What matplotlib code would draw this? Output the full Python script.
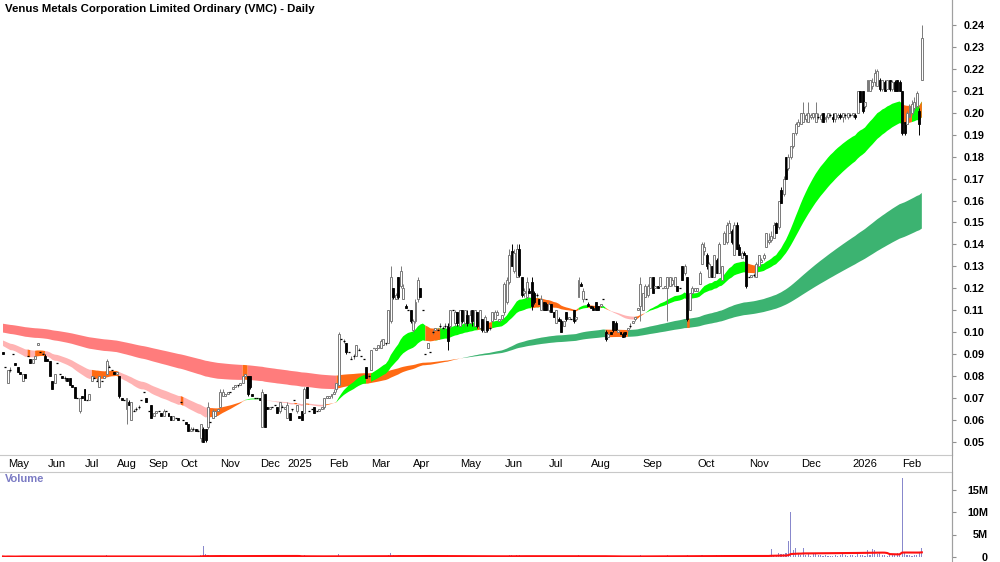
import numpy as np
import pandas as pd
import matplotlib
matplotlib.use("Agg")
import matplotlib.pyplot as plt
from matplotlib.lines import Line2D

plt.rcParams['font.family'] = ['Liberation Sans', 'DejaVu Sans']

# bars per month (only days with trades are shown)
month_labels = ['Apr', 'May', 'Jun', 'Jul', 'Aug', 'Sep', 'Oct', 'Nov', 'Dec',
                '2025', 'Feb', 'Mar', 'Apr', 'May', 'Jun', 'Jul', 'Aug', 'Sep', 'Oct', 'Nov', 'Dec',
                '2026', 'Feb']
month_bars = [2, 16, 15, 13, 13, 13, 16, 16, 11,
              17, 17, 17, 19, 18, 18, 17, 21, 22, 21, 21, 21,
              20, 9]

# prices in tenths of a cent
opens = [
    91, 84,
    77, 83, 90, 86, 84, 82, 78, 81, 89, 88, 86, 88, 94, 91, 90, 89,
    88, 87, 78, 77, 86, 81, 80, 79, 79, 79, 76, 75, 70, 64, 71,
    74, 69, 69, 78, 79, 78, 75, 78, 79, 81, 84, 83, 82,
    81, 80, 70, 69, 65, 68, 60, 64, 65, 66, 69, 73, 70,
    64, 67, 62, 63, 64, 63, 62, 64, 63, 62, 60, 61, 61,
    68, 60, 59, 58, 55, 56, 56, 55, 52, 56, 56, 57, 59, 61, 62, 64,
    66, 71, 71, 72, 73, 74, 75, 76, 76, 77, 80, 80, 80, 72, 70, 70,
    70, 57, 72, 66, 65, 66, 67, 66, 64, 66, 65,
    61, 63, 65, 69, 64, 62, 64, 63, 75, 64, 65, 66, 64, 64, 65, 66, 70,
    70, 71, 72, 74, 76, 97, 96, 95, 91, 88, 89, 89, 92, 89, 88, 84, 80,
    83, 93, 92, 93, 93, 94, 95, 95, 105, 120, 115, 125, 121, 115, 112, 110, 110,
    101, 105, 115, 120, 110, 90, 93, 91, 100, 101, 101, 103, 102, 103, 103, 103, 110, 104, 109,
    103, 110, 104, 108, 104, 110, 103, 109, 102, 106, 100, 105, 102, 105, 106, 108, 105, 106,
    109, 114, 123, 137, 128, 125, 138, 125, 118, 116, 119, 123, 118, 117, 115, 110, 114, 113,
    110, 113, 109, 104, 106, 105, 103, 109, 106, 106, 110, 106, 116, 122, 115, 115, 113,
    112, 111, 114, 112, 112, 115, 100, 98, 100, 105, 104, 100, 100, 99, 100, 101, 103, 104, 106, 110, 112,
    110, 116, 117, 120, 125, 120, 121, 121, 120, 120, 120, 121, 122, 121, 121, 120, 130, 127, 125, 110, 118, 119,
    119, 122, 131, 137, 135, 125, 130, 125, 133, 127, 124, 140, 141, 145, 146, 135, 149, 139, 134, 136, 135,
    125, 125, 126, 125, 130, 132, 134, 139, 141, 142, 143, 150, 148, 165, 163, 180, 175, 180, 185, 191, 194,
    195, 196, 197, 196, 198, 198, 196, 198, 197, 200, 197, 198, 199, 198, 197, 198, 199, 198, 199, 198, 199,
    199, 199, 200, 210, 210, 203, 210, 210, 212, 214, 212, 215, 211, 214, 211, 215, 211, 214, 215, 214,
    210, 196, 195, 198, 200, 202, 203, 201, 215,
]
highs = [
    91, 84,
    83, 84, 90, 86, 84, 82, 81, 81, 89, 88, 88, 89, 95, 91, 91, 90,
    88, 87, 78, 81, 86, 81, 80, 80, 79, 79, 76, 75, 70, 70, 71,
    74, 69, 72, 80, 80, 79, 80, 78, 80, 88, 85, 83, 82,
    82, 80, 70, 69, 70, 69, 68, 65, 66, 67, 69, 73, 70,
    64, 67, 63, 64, 64, 63, 65, 64, 63, 62, 62, 61, 61,
    68, 60, 59, 58, 57, 57, 56, 56, 58, 57, 56, 68, 59, 65, 64, 65,
    74, 74, 72, 73, 73, 75, 76, 76, 77, 80, 81, 80, 80, 72, 70, 70,
    70, 74, 72, 66, 66, 66, 67, 66, 68, 67, 66,
    68, 63, 65, 69, 67, 62, 64, 75, 75, 64, 65, 66, 64, 65, 66, 70, 71,
    71, 72, 74, 77, 100, 97, 97, 95, 91, 89, 90, 94, 93, 89, 88, 84, 81,
    92, 93, 93, 94, 97, 97, 95, 110, 130, 120, 118, 125, 130, 122, 113, 110, 110,
    106, 115, 125, 120, 110, 90, 95, 91, 101, 102, 102, 104, 103, 104, 104, 110, 110, 110, 109,
    110, 110, 110, 110, 110, 110, 110, 109, 110, 106, 108, 105, 103, 109, 110, 110, 106, 108,
    123, 125, 138, 140, 138, 140, 140, 125, 120, 125, 120, 125, 119, 118, 115, 117, 114, 114,
    114, 113, 109, 110, 107, 106, 105, 109, 107, 106, 110, 107, 125, 123, 120, 115, 114,
    112, 112, 114, 112, 113, 115, 101, 99, 100, 105, 105, 101, 100, 100, 100, 102, 104, 105, 107, 111, 125,
    118, 122, 122, 125, 125, 121, 121, 125, 120, 121, 125, 125, 125, 125, 121, 120, 130, 131, 125, 118, 121, 120,
    120, 128, 141, 141, 136, 132, 130, 135, 134, 141, 130, 146, 150, 151, 147, 150, 150, 140, 137, 137, 135,
    125, 126, 127, 132, 135, 134, 136, 145, 145, 146, 150, 150, 160, 166, 171, 180, 181, 185, 191, 196, 197,
    200, 205, 200, 205, 200, 200, 205, 200, 200, 200, 199, 200, 200, 200, 200, 200, 200, 200, 200, 200, 200,
    200, 200, 210, 210, 210, 205, 215, 215, 216, 220, 220, 216, 215, 215, 215, 215, 215, 215, 215, 215,
    210, 196, 201, 204, 206, 207, 210, 202, 240,
]
lows = [
    90, 84,
    77, 82, 90, 85, 82, 81, 78, 79, 89, 86, 86, 88, 94, 91, 90, 87,
    87, 80, 74, 77, 86, 81, 79, 78, 78, 76, 75, 70, 70, 63, 70,
    69, 69, 69, 78, 79, 78, 75, 78, 79, 81, 84, 83, 81,
    81, 70, 69, 69, 58, 67, 60, 64, 64, 65, 69, 73, 68,
    64, 61, 62, 63, 64, 62, 62, 64, 62, 60, 60, 61, 60,
    68, 60, 58, 55, 55, 55, 55, 55, 50, 50, 50, 56, 59, 61, 62, 64,
    66, 71, 71, 72, 73, 74, 75, 75, 76, 77, 80, 71, 74, 71, 70, 70,
    69, 57, 57, 65, 65, 66, 67, 63, 63, 66, 65,
    61, 60, 64, 69, 63, 61, 60, 63, 70, 64, 65, 63, 64, 64, 65, 65, 70,
    70, 70, 72, 73, 76, 97, 95, 90, 91, 88, 88, 89, 92, 89, 88, 79, 79,
    83, 93, 92, 93, 93, 94, 94, 95, 104, 115, 115, 115, 120, 115, 111, 110, 104,
    100, 104, 114, 116, 110, 90, 93, 91, 99, 101, 101, 102, 101, 102, 92, 102, 110, 103, 103,
    103, 104, 103, 103, 104, 103, 103, 102, 102, 100, 100, 100, 101, 105, 106, 108, 105, 106,
    108, 113, 122, 130, 127, 125, 125, 116, 116, 115, 118, 110, 113, 116, 113, 110, 110, 110,
    109, 109, 107, 104, 105, 100, 103, 105, 106, 106, 104, 105, 116, 121, 114, 115, 112,
    111, 110, 110, 110, 112, 115, 96, 98, 99, 100, 101, 100, 99, 98, 98, 100, 102, 104, 105, 110, 105,
    110, 116, 116, 120, 118, 120, 120, 121, 120, 120, 105, 121, 121, 121, 119, 120, 124, 126, 105, 110, 118, 119,
    119, 122, 131, 135, 129, 125, 125, 125, 127, 127, 124, 140, 140, 145, 140, 135, 138, 135, 134, 135, 120,
    125, 125, 125, 125, 130, 132, 133, 139, 140, 141, 143, 145, 147, 159, 162, 170, 174, 179, 184, 190, 194,
    195, 196, 196, 196, 197, 197, 196, 197, 196, 196, 196, 197, 198, 196, 196, 197, 197, 196, 197, 197, 198,
    198, 197, 200, 205, 200, 202, 210, 210, 211, 212, 212, 210, 210, 210, 211, 210, 210, 210, 210, 210,
    190, 190, 195, 198, 199, 201, 202, 190, 215,
]
closes = [
    90, 84,
    83, 83, 90, 85, 82, 81, 81, 79, 89, 86, 88, 89, 95, 91, 90, 87,
    87, 80, 74, 81, 86, 81, 79, 79, 78, 76, 75, 70, 70, 70, 70,
    69, 69, 72, 80, 79, 78, 80, 78, 80, 87, 84, 83, 81,
    82, 71, 69, 69, 70, 67, 68, 64, 65, 66, 69, 73, 68,
    64, 61, 63, 64, 64, 62, 64, 64, 62, 60, 62, 61, 60,
    68, 60, 58, 55, 56, 56, 55, 55, 58, 50, 51, 66, 59, 64, 64, 65,
    73, 73, 72, 73, 73, 75, 76, 76, 77, 80, 81, 72, 75, 71, 70, 70,
    69, 73, 57, 65, 66, 66, 67, 63, 68, 66, 66,
    67, 60, 65, 69, 67, 61, 60, 74, 70, 64, 65, 63, 64, 65, 66, 70, 71,
    71, 72, 73, 77, 99, 97, 96, 91, 91, 88, 89, 94, 92, 89, 88, 79, 80,
    92, 93, 93, 94, 96, 97, 95, 110, 125, 116, 117, 116, 128, 120, 111, 110, 105,
    105, 114, 124, 116, 110, 90, 95, 91, 100, 102, 101, 103, 102, 103, 96, 110, 110, 109, 104,
    110, 105, 110, 104, 108, 105, 110, 103, 110, 101, 107, 101, 102, 109, 109, 109, 106, 108,
    122, 124, 135, 130, 136, 138, 126, 117, 119, 123, 118, 112, 114, 117, 113, 115, 110, 110,
    113, 109, 107, 110, 105, 100, 105, 106, 107, 106, 105, 107, 124, 121, 119, 115, 112,
    111, 110, 110, 110, 113, 115, 97, 99, 99, 101, 101, 101, 99, 98, 99, 102, 103, 105, 107, 111, 122,
    118, 121, 121, 125, 118, 121, 120, 125, 120, 121, 125, 125, 124, 125, 119, 120, 124, 130, 106, 118, 120, 120,
    120, 127, 140, 139, 130, 131, 125, 135, 127, 140, 130, 145, 149, 150, 141, 149, 138, 135, 136, 135, 121,
    125, 126, 126, 131, 135, 133, 135, 145, 142, 144, 149, 145, 160, 159, 170, 170, 180, 185, 191, 195, 196,
    200, 200, 199, 200, 199, 200, 200, 198, 199, 196, 198, 200, 199, 197, 200, 199, 198, 200, 199, 200, 199,
    200, 198, 210, 205, 201, 205, 215, 215, 214, 218, 219, 211, 215, 210, 215, 211, 214, 210, 210, 210,
    191, 191, 200, 203, 204, 205, 209, 195, 234,
]
# volume in thousands of shares
volumes = [
    120, 60,
    150, 80, 60, 90, 210, 180, 120, 90, 60, 140, 110, 180, 250, 70, 90, 160,
    100, 230, 190, 140, 60, 80, 120, 90, 60, 160, 110, 260, 50, 300, 90,
    180, 60, 140, 120, 80, 60, 150, 40, 90, 380, 70, 60, 110,
    90, 260, 70, 60, 320, 90, 240, 90, 80, 70, 40, 60, 120,
    50, 280, 100, 130, 40, 60, 180, 40, 60, 110, 90, 50, 60,
    40, 70, 90, 180, 90, 100, 130, 120, 420, 2500, 600, 520, 90, 150, 130, 110,
    380, 160, 80, 120, 60, 110, 90, 80, 140, 150, 280, 180, 220, 150, 60, 90,
    50, 450, 380, 80, 60, 50, 40, 150, 180, 60, 140,
    210, 160, 90, 40, 110, 70, 190, 420, 300, 60, 80, 170, 50, 90, 120, 260, 140,
    90, 130, 100, 220, 750, 180, 120, 290, 90, 140, 110, 210, 120, 80, 60, 260, 140,
    210, 60, 90, 70, 180, 140, 90, 380, 900, 420, 260, 380, 350, 220, 150, 90, 240,
    150, 260, 330, 280, 120, 250, 60, 130, 50, 180, 90, 140, 100, 120, 350, 240, 60, 200, 180,
    170, 120, 160, 140, 110, 150, 170, 140, 180, 160, 150, 130, 70, 140, 100, 90, 60, 120,
    230, 200, 450, 380, 260, 350, 420, 300, 180, 220, 140, 290, 160, 90, 140, 170, 130, 110,
    160, 200, 90, 120, 60, 140, 90, 150, 80, 40, 130, 70, 380, 180, 150, 60, 120,
    90, 160, 60, 50, 90, 40, 280, 90, 60, 230, 150, 80, 50, 60, 120, 70, 90, 110, 90, 180, 500,
    220, 180, 240, 90, 110, 160, 50, 200, 60, 150, 380, 200, 150, 90, 40, 60, 270, 130, 520, 240, 90, 110,
    180, 250, 480, 300, 250, 190, 240, 200, 380, 120, 430, 350, 260, 280, 300, 260, 220, 180, 300, 80, 400,
    100, 120, 140, 220, 260, 180, 140, 300, 240, 1700, 380, 500, 800, 600, 700, 900, 3500, 10000, 1500, 2000, 600,
    500, 2000, 400, 700, 300, 700, 600, 400, 500, 300, 400, 300, 250, 300, 400, 300, 350, 800, 400, 300, 450,
    400, 300, 600, 500, 400, 300, 1500, 500, 1800, 1500, 600, 900, 500, 400, 300, 500, 600, 400, 900, 500,
    17500, 1200, 500, 400, 300, 400, 500, 900, 2000,
]

o = np.array(opens) / 1000.0
h = np.array(highs) / 1000.0
l = np.array(lows) / 1000.0
c = np.array(closes) / 1000.0
v = np.array(volumes) * 1000.0
n = len(c)
assert len(o) == len(h) == len(l) == n == len(v) == sum(month_bars)
x = np.arange(n)


def ema(values, period, seed):
    out = np.empty(len(values))
    k = 2.0 / (period + 1)
    prev = seed
    for i, val in enumerate(values):
        prev = prev + k * (val - prev)
        out[i] = prev
    return out


# ribbons: short-term pair and long-term pair (seeded from the first visible level)
s_fast = ema(c, 30, 0.094)
s_slow = ema(c, 50, 0.0965)
l_fast = ema(c, 150, 0.100)
l_slow = ema(c, 230, 0.104)


def ribbon(ax, fast, slow, up_col, mix_col, down_col, z):
    # green: fast above slow and rising, red: fast below slow and falling, else orange
    rising = np.diff(fast, prepend=fast[0]) > 0
    above = fast > slow
    up = above & rising
    down = ~above & ~rising
    mix = ~(up | down)
    lo = np.minimum(fast, slow)
    hi = np.maximum(fast, slow)
    for mask, col in ((up, up_col), (down, down_col), (mix, mix_col)):
        m = mask.copy()
        m[1:] = m[1:] | mask[:-1]
        ax.fill_between(x, lo, hi, where=m, color=col, lw=0, zorder=z)


fig = plt.figure(figsize=(10, 5.62), dpi=100)
H = 562.0
ax = fig.add_axes([0, (H - 455) / H, 0.952, 455 / H])
axv = fig.add_axes([0, 5 / H, 0.952, 85 / H])

ribbon(ax, l_fast, l_slow, '#3cb371', '#ff6a13', '#ff7c7c', 1)
ribbon(ax, s_fast, s_slow, '#00ff00', '#ff6a13', '#ffb3b3', 2)

# candles
up = c > o
flat = c == o
body_w = 0.8
for i in range(n):
    if flat[i]:
        if h[i] > l[i]:
            ax.vlines(x[i], l[i], h[i], color='#707070', lw=0.7, zorder=3)
        ax.hlines(c[i], x[i] - body_w / 2, x[i] + body_w / 2, color='black', lw=0.9, zorder=4)
        continue
    if up[i]:
        ax.vlines(x[i], l[i], h[i], color='#7a7a7a', lw=0.7, zorder=3)
        ax.bar(x[i], c[i] - o[i], bottom=o[i], width=body_w, facecolor='white',
               edgecolor='#7a7a7a', lw=0.7, zorder=4)
    else:
        ax.vlines(x[i], l[i], h[i], color='black', lw=0.7, zorder=3)
        ax.bar(x[i], o[i] - c[i], bottom=c[i], width=body_w, facecolor='black',
               edgecolor='black', lw=0.6, zorder=4)

xlim = (-3 / 2.47, (952 - 3) / 2.47)
ax.set_xlim(*xlim)
ax.set_ylim(0.05 - 13 / 2195, 0.05 + 442 / 2195)
ax.yaxis.tick_right()
yt = np.round(np.arange(0.05, 0.2401, 0.01), 2)
ax.set_yticks(yt)
ax.set_yticklabels([f'{t:.2f}' for t in yt], fontsize=7.8, fontweight='bold')
ax.tick_params(axis='y', direction='out', length=3, pad=5.5, colors='#909090', labelcolor='black')
ax.set_xticks([])
for s in ('top', 'left'):
    ax.spines[s].set_visible(False)
ax.spines['right'].set_color('#a0a0a0')
ax.spines['bottom'].set_color('#c8c8c8')

fig.text(5 / 1000, 1 - 9 / H, 'Venus Metals Corporation Limited Ordinary (VMC) - Daily',
         fontsize=8.2, fontweight='bold', va='center', ha='left')

# month labels at the first bar of each month
starts = np.concatenate([[0], np.cumsum(month_bars)[:-1]])
for lab, st in zip(month_labels[1:], starts[1:]):
    px = 3 + st * 2.47
    fig.text(px / 1000, 1 - 464 / H, lab, fontsize=8, va='center', ha='left')

# volume panel
axv.bar(x, v, width=0.45, color='#8888cc', zorder=2)
vma = pd.Series(v).rolling(40, min_periods=1).mean()
axv.plot(x, vma, color='#ff1010', lw=1.5, zorder=3)
axv.set_xlim(*xlim)
axv.set_ylim(0, 85 / 22.5 * 5e6)
axv.yaxis.tick_right()
axv.set_yticks([0, 5e6, 10e6, 15e6])
axv.set_yticklabels(['0', '5M', '10M', '15M'], fontsize=7.8, fontweight='bold')
for lab in axv.get_yticklabels():
    lab.set_ha('right')
axv.tick_params(axis='y', direction='out', length=3, pad=23, colors='#909090', labelcolor='black')
axv.set_xticks([])
for s in ('bottom', 'left'):
    axv.spines[s].set_visible(False)
axv.spines['top'].set_color('#c8c8c8')
axv.spines['right'].set_color('#a0a0a0')
fig.text(5 / 1000, 1 - 479 / H, 'Volume', fontsize=8, fontweight='bold', color='#7b7bc4',
         va='center', ha='left')
fig.add_artist(Line2D([0.952, 0.952], [0, 1], color='#a0a0a0', lw=0.8))

fig.savefig('out.png', dpi=100)
